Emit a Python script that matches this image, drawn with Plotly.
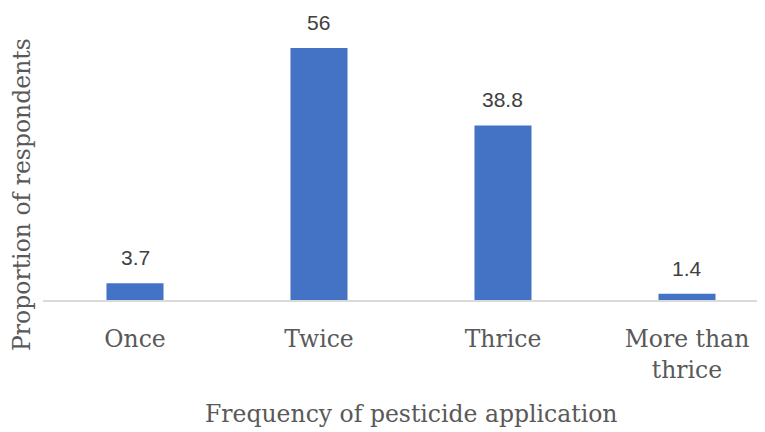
import plotly.graph_objects as go

categories = ["Once", "Twice", "Thrice", "More than<br>thrice"]
values = [3.7, 56, 38.8, 1.4]
value_labels = ["3.7", "56", "38.8", "1.4"]

x_title = "Frequency of pesticide application"
y_title = "Proportion of respondents"

serif = "DejaVu Serif"
sans = "Liberation Sans"

fig = go.Figure()
fig.add_trace(go.Bar(
    x=categories, y=values,
    marker=dict(color="#4472C4", line=dict(width=0)),
    width=0.31,
))

for c, v, t in zip(categories, values, value_labels):
    fig.add_annotation(x=c, y=v, xref="x", yref="y", text=t, showarrow=False,
                       yanchor="bottom", yshift=12,
                       font=dict(family=sans, size=21, color="#404040"))

fig.add_annotation(xref="paper", yref="paper", x=0.51, y=-0.39, text=x_title,
                   showarrow=False, xanchor="center", yanchor="middle",
                   font=dict(family=serif, size=23.5, color="#595959"))
fig.add_annotation(xref="paper", yref="paper", x=-0.029, y=0.36, text=y_title,
                   showarrow=False, textangle=-90, xanchor="center", yanchor="middle",
                   font=dict(family=serif, size=23.5, color="#595959"))

fig.update_layout(
    width=757, height=424,
    margin=dict(l=35, r=0, t=0, b=132),
    paper_bgcolor="white", plot_bgcolor="white",
    showlegend=False,
    xaxis=dict(range=[-0.5, 3.424], showline=True, linecolor="#d9d9d9", linewidth=1.5,
               ticks="", showgrid=False, ticklabelstandoff=17,
               tickfont=dict(family=serif, size=23.5, color="#595959")),
    yaxis=dict(range=[0, 64.89], showticklabels=False, showgrid=False, zeroline=False,
               showline=False, ticks=""),
)

fig.write_html("out.html")
